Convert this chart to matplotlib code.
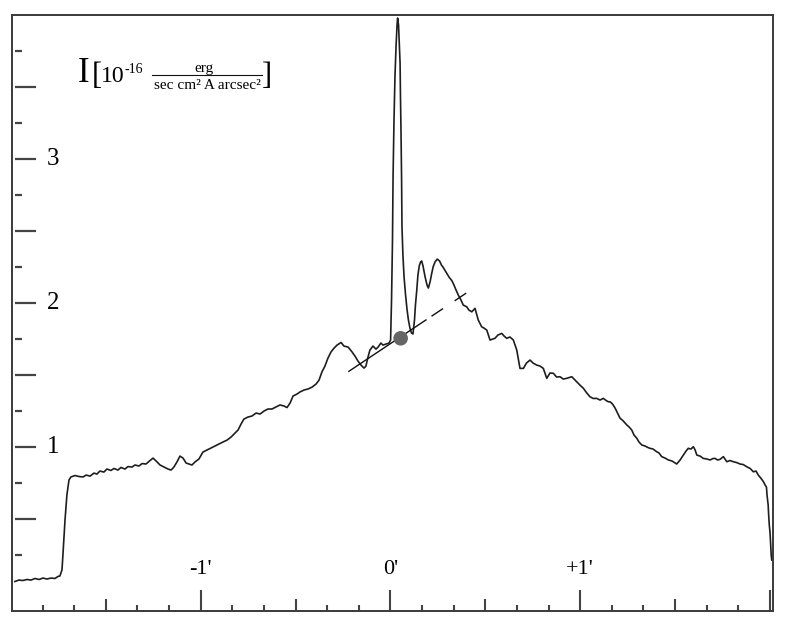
import numpy as np
import matplotlib
matplotlib.use("Agg")
import matplotlib.pyplot as plt
from matplotlib.lines import Line2D

plt.rcParams['font.family'] = ['Liberation Serif', 'DejaVu Serif']

# position along the slit (arcmin) and surface brightness (1e-16 erg/s/cm2/A/arcsec2)
pos = [-1.979, -1.958, -1.937, -1.915, -1.894, -1.873, -1.852, -1.831, -1.810, -1.789,
       -1.768, -1.752, -1.742, -1.731, -1.726, -1.715, -1.705, -1.694, -1.684, -1.662,
       -1.641, -1.620, -1.604, -1.583, -1.562, -1.547, -1.531, -1.510, -1.494, -1.473,
       -1.457, -1.436, -1.420, -1.399, -1.383, -1.362, -1.346, -1.325, -1.309, -1.288,
       -1.267, -1.251, -1.235, -1.214, -1.193, -1.172, -1.156, -1.141, -1.125, -1.109,
       -1.093, -1.077, -1.062, -1.046, -1.030, -1.009, -0.988, -0.967, -0.946, -0.925,
       -0.903, -0.882, -0.861, -0.840, -0.819, -0.803, -0.787, -0.772, -0.751, -0.730,
       -0.708, -0.687, -0.666, -0.645, -0.624, -0.603, -0.582, -0.561, -0.545, -0.529,
       -0.513, -0.492, -0.477, -0.455, -0.434, -0.413, -0.392, -0.376, -0.361, -0.345,
       -0.329, -0.313, -0.297, -0.281, -0.260, -0.245, -0.223, -0.202, -0.187, -0.171,
       -0.155, -0.139, -0.129, -0.118, -0.108, -0.092, -0.076, -0.065, -0.050, -0.039,
       -0.023, -0.007, 0.001,
       0.006, 0.011, 0.014, 0.019, 0.024, 0.030, 0.035, 0.038, 0.043, 0.047,
       0.051, 0.053, 0.056, 0.059, 0.061, 0.066, 0.072, 0.080, 0.088, 0.095,
       0.103, 0.111, 0.119, 0.127, 0.132, 0.139, 0.145, 0.152, 0.159, 0.165,
       0.172, 0.182, 0.193, 0.200, 0.209, 0.217, 0.225, 0.235, 0.247, 0.259,
       0.269, 0.277, 0.293, 0.309, 0.325, 0.335, 0.346, 0.358, 0.372, 0.384,
       0.402, 0.414, 0.429, 0.446, 0.463, 0.481, 0.493, 0.508, 0.525, 0.551,
       0.567, 0.587, 0.599, 0.613, 0.630, 0.648, 0.666, 0.675, 0.683, 0.701,
       0.717, 0.736, 0.752, 0.771, 0.789, 0.806, 0.824, 0.841, 0.859, 0.876,
       0.894, 0.911, 0.929, 0.956, 0.982, 0.999, 1.017, 1.035, 1.052, 1.069,
       1.087, 1.105, 1.122, 1.137, 1.149, 1.158, 1.171, 1.184, 1.197, 1.210,
       1.228, 1.246, 1.258, 1.272, 1.284, 1.298, 1.310, 1.325, 1.342, 1.358,
       1.368, 1.384, 1.404, 1.416, 1.430, 1.448, 1.465, 1.484, 1.509, 1.527,
       1.544, 1.558, 1.570, 1.584, 1.597, 1.606, 1.615, 1.632, 1.649, 1.667,
       1.685, 1.700, 1.711, 1.724, 1.737, 1.755, 1.773, 1.790, 1.807, 1.825,
       1.843, 1.860, 1.878, 1.896, 1.913, 1.927, 1.939, 1.957, 1.967, 1.975,
       1.982, 1.985, 1.991, 1.993, 1.997, 2.001, 2.004, 2.007, 2.010]

intensity = [0.064, 0.074, 0.071, 0.078, 0.074, 0.085, 0.078, 0.088, 0.081, 0.088,
             0.085, 0.099, 0.102, 0.144, 0.248, 0.491, 0.665, 0.769, 0.790, 0.800,
             0.793, 0.790, 0.803, 0.796, 0.817, 0.810, 0.831, 0.824, 0.845, 0.835,
             0.849, 0.838, 0.856, 0.845, 0.862, 0.859, 0.873, 0.866, 0.883, 0.880,
             0.904, 0.921, 0.901, 0.873, 0.859, 0.845, 0.838, 0.859, 0.894, 0.935,
             0.921, 0.887, 0.880, 0.873, 0.894, 0.915, 0.963, 0.977, 0.991, 1.005,
             1.019, 1.033, 1.046, 1.067, 1.095, 1.116, 1.158, 1.192, 1.206, 1.213,
             1.234, 1.227, 1.248, 1.262, 1.262, 1.276, 1.290, 1.283, 1.272, 1.303,
             1.352, 1.366, 1.380, 1.394, 1.401, 1.414, 1.435, 1.463, 1.519, 1.560,
             1.616, 1.658, 1.685, 1.706, 1.724, 1.699, 1.692, 1.658, 1.630, 1.595,
             1.567, 1.546, 1.560, 1.623, 1.671, 1.699, 1.678, 1.692, 1.720, 1.706,
             1.713, 1.720, 1.741,
             2.019, 2.435, 2.873, 3.269, 3.567, 3.789, 3.928, 3.977, 3.928, 3.789,
             3.664, 3.442, 3.178, 2.852, 2.526, 2.331, 2.178, 2.053, 1.949, 1.880,
             1.824, 1.790, 1.783, 1.880, 1.984, 2.088, 2.192, 2.255, 2.283, 2.290,
             2.255, 2.185, 2.123, 2.102, 2.144, 2.199, 2.248, 2.283, 2.303, 2.290,
             2.262, 2.248, 2.213, 2.178, 2.151, 2.123, 2.088, 2.053, 2.019, 1.984,
             1.972, 1.949, 1.937, 1.961, 1.880, 1.833, 1.824, 1.810, 1.741, 1.753,
             1.776, 1.787, 1.769, 1.753, 1.762, 1.741, 1.671, 1.602, 1.544, 1.544,
             1.581, 1.602, 1.581, 1.567, 1.560, 1.544, 1.475, 1.512, 1.510, 1.484,
             1.486, 1.470, 1.475, 1.486, 1.451, 1.428, 1.406, 1.373, 1.347, 1.335,
             1.336, 1.324, 1.336, 1.321, 1.312, 1.312, 1.296, 1.269, 1.234, 1.199,
             1.178, 1.151, 1.137, 1.116, 1.081, 1.060, 1.033, 1.012, 1.005, 0.994,
             0.989, 0.984, 0.965, 0.956, 0.931, 0.921, 0.908, 0.901, 0.880, 0.908,
             0.942, 0.970, 0.989, 0.984, 1.000, 0.977, 0.942, 0.935, 0.919, 0.915,
             0.908, 0.918, 0.919, 0.908, 0.912, 0.931, 0.896, 0.904, 0.896, 0.890,
             0.880, 0.876, 0.861, 0.849, 0.826, 0.831, 0.803, 0.774, 0.755, 0.734,
             0.720, 0.665, 0.595, 0.540, 0.456, 0.401, 0.317, 0.248, 0.213]

# continuum fit under the nucleus and the marked point on it
fit_x = [-0.222, 0.402]
fit_y = [1.521, 2.069]
dot_x = [0.054]
dot_y = [1.753]

x_ticklabels = {-1: "-1'", 0: "0'", 1: "+1'"}
y_ticklabels = [1, 2, 3]

fig = plt.figure(figsize=(7.86, 6.28), dpi=100)
ax = fig.add_axes([0.0156, 0.0275, 0.9675, 0.949])
ax.set_xlim(-1.993, 2.015)
ax.set_ylim(-0.139, 4.0)
ax.set_xticks([])
ax.set_yticks([])
for s in ax.spines.values():
    s.set_color('#3a3a3a')
    s.set_linewidth(1.4)

ax.plot(pos, intensity, color='#1e1e1e', lw=1.2)

fit = Line2D(fit_x, fit_y, color='#111111', lw=1.0)
fit.set_dashes([67.7, 4.3, 10, 10, 10, 50])
ax.add_line(fit)
ax.scatter(dot_x, dot_y, s=110, color='#666666', zorder=3, edgecolors='none')

# y ticks: start a little inside the frame
ytr = ax.get_yaxis_transform()
for v in np.arange(0.25, 4.0, 0.25):
    long_tick = abs(v * 2 - round(v * 2)) < 1e-6
    ax.plot([0.004, 0.031 if long_tick else 0.0128], [v, v], transform=ytr,
            color='#444444', lw=1.6, solid_capstyle='butt')
for v in y_ticklabels:
    ax.text(0.0456, v, str(v), transform=ytr, ha='left', va='center', fontsize=18)

# x ticks every 10 arcsec, pointing up from the bottom
xtr = ax.get_xaxis_transform()
for k in range(-11, 13):
    if k % 6 == 0:
        h = 0.034
    elif k % 3 == 0:
        h = 0.019
    else:
        h = 0.010
    ax.plot([k / 6, k / 6], [0, h], transform=xtr, color='#444444', lw=1.5,
            solid_capstyle='butt')
for v, lab in x_ticklabels.items():
    ax.text(v, 0.069, lab, transform=xtr, ha='center', va='center', fontsize=16)

# unit label
fig.text(0.1065, 0.8699, 'I', fontsize=25, ha='center', va='baseline')
fig.text(0.1234, 0.8782, '[', fontsize=22, ha='center', va='center')
fig.text(0.1431, 0.8699, '10', fontsize=17, ha='center', va='baseline')
fig.text(0.1585, 0.8830, '-16', fontsize=10, ha='left', va='baseline')
fig.text(0.2595, 0.8854, 'erg', fontsize=11, ha='center', va='baseline')
fig.add_artist(Line2D([0.193, 0.333], [0.8798, 0.8798], transform=fig.transFigure,
                      color='#111111', lw=0.8))
fig.text(0.2634, 0.8583, 'sec cm² A arcsec²', fontsize=11, ha='center', va='baseline')
fig.text(0.3403, 0.8782, ']', fontsize=22, ha='center', va='center')

fig.savefig('out.png', dpi=100)
